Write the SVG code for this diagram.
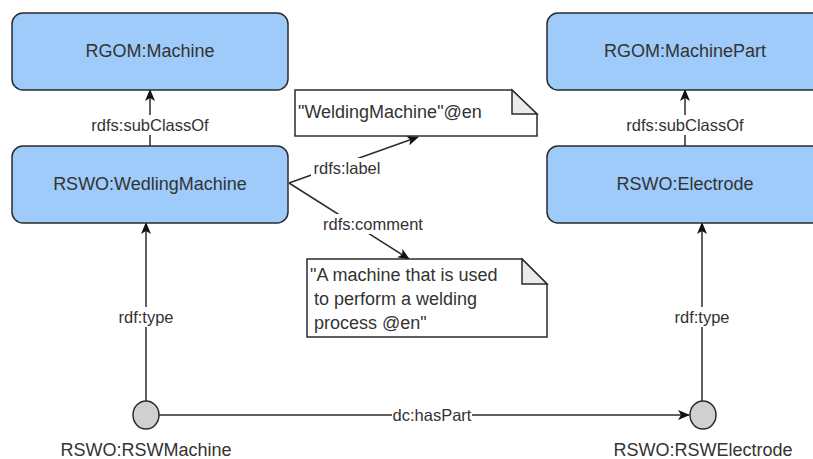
<svg xmlns="http://www.w3.org/2000/svg" width="813" height="459" viewBox="0 0 813 459">
<style>
.box{fill:#9ecbf9;stroke:#2b2b2b;stroke-width:1.5}
.note{fill:#ffffff;stroke:#2b2b2b;stroke-width:1.5}
.fold{fill:#ebebeb;stroke:#2b2b2b;stroke-width:1.5}
.dot{fill:#d0d0d0;stroke:#2b2b2b;stroke-width:1.5}
.t{font-family:"Liberation Sans",Arial,sans-serif;font-size:18px;fill:#333333}
.c{text-anchor:middle;dominant-baseline:central}
.e{stroke:#2b2b2b;stroke-width:1.5;fill:none;marker-end:url(#arr)}
.lbl{font-family:"Liberation Sans",Arial,sans-serif;font-size:16.5px;fill:#333333;text-anchor:middle;dominant-baseline:central}
.bg{fill:#ffffff}
</style>
<defs>
<marker id="arr" viewBox="0 0 12 10" refX="11" refY="5" markerWidth="12" markerHeight="10" markerUnits="userSpaceOnUse" orient="auto">
<path d="M0,0 L12,5 L0,10 L3,5 Z" fill="#111111"/>
</marker>
</defs>
<rect width="813" height="459" fill="#ffffff"/>
<g id="connectors">
<line class="e" x1="150" y1="146" x2="150" y2="90"/>
<rect class="bg" x="86" y="115" width="128" height="20"/>
<text class="lbl" x="150" y="125">rdfs:subClassOf</text>
<line class="e" x1="685" y1="146" x2="685" y2="90"/>
<rect class="bg" x="621" y="115" width="128" height="20"/>
<text class="lbl" x="685" y="125">rdfs:subClassOf</text>
<line class="e" x1="146" y1="401" x2="146" y2="223"/>
<rect class="bg" x="114" y="307" width="64" height="20"/>
<text class="lbl" x="146" y="317">rdf:type</text>
<line class="e" x1="702" y1="401" x2="702" y2="223"/>
<rect class="bg" x="670" y="307" width="64" height="20"/>
<text class="lbl" x="702" y="317">rdf:type</text>
<line class="e" x1="159" y1="415" x2="689" y2="415"/>
<rect class="bg" x="392" y="405" width="80" height="20"/>
<text class="lbl" x="432" y="415">dc:hasPart</text>
<line class="e" x1="289" y1="183" x2="418" y2="137"/>
<rect class="bg" x="311" y="158" width="72" height="20"/>
<text class="lbl" x="347" y="168">rdfs:label</text>
<line class="e" x1="289" y1="183" x2="409" y2="259"/>
<rect class="bg" x="321" y="214" width="104" height="20"/>
<text class="lbl" x="373" y="224">rdfs:comment</text>
</g>
<g id="rgom-machine">
<rect class="box" x="12" y="13" width="276" height="77" rx="11"/>
<text class="t c" x="150" y="51">RGOM:Machine</text>
</g>
<g id="rswo-weldingmachine">
<rect class="box" x="12" y="146" width="276" height="77" rx="11"/>
<text class="t c" x="150" y="184">RSWO:WedlingMachine</text>
</g>
<g id="rgom-machinepart">
<rect class="box" x="547" y="13" width="276" height="77" rx="11"/>
<text class="t c" x="685" y="51">RGOM:MachinePart</text>
</g>
<g id="rswo-electrode">
<rect class="box" x="547" y="146" width="276" height="77" rx="11"/>
<text class="t c" x="685" y="184">RSWO:Electrode</text>
</g>
<g id="note-label">
<path class="note" d="M295,90 L512,90 L537,114 L537,136 L295,136 Z"/>
<path class="fold" d="M512,90 L512,114 L537,114 Z"/>
<text class="t" x="298" y="118">"WeldingMachine"@en</text>
</g>
<g id="note-comment">
<path class="note" d="M307,259 L522,259 L547,284 L547,337 L307,337 Z"/>
<path class="fold" d="M522,259 L522,284 L547,284 Z"/>
<text class="t" x="310" y="281">"A machine that is used</text>
<text class="t" x="314" y="305">to perform a welding</text>
<text class="t" x="314" y="329">process @en"</text>
</g>
<g id="rsw-machine">
<ellipse class="dot" cx="146" cy="415" rx="13" ry="14"/>
<text class="t" x="146" y="456" text-anchor="middle">RSWO:RSWMachine</text>
</g>
<g id="rsw-electrode">
<ellipse class="dot" cx="703" cy="415" rx="13" ry="14"/>
<text class="t" x="703" y="456" text-anchor="middle">RSWO:RSWElectrode</text>
</g>
</svg>
